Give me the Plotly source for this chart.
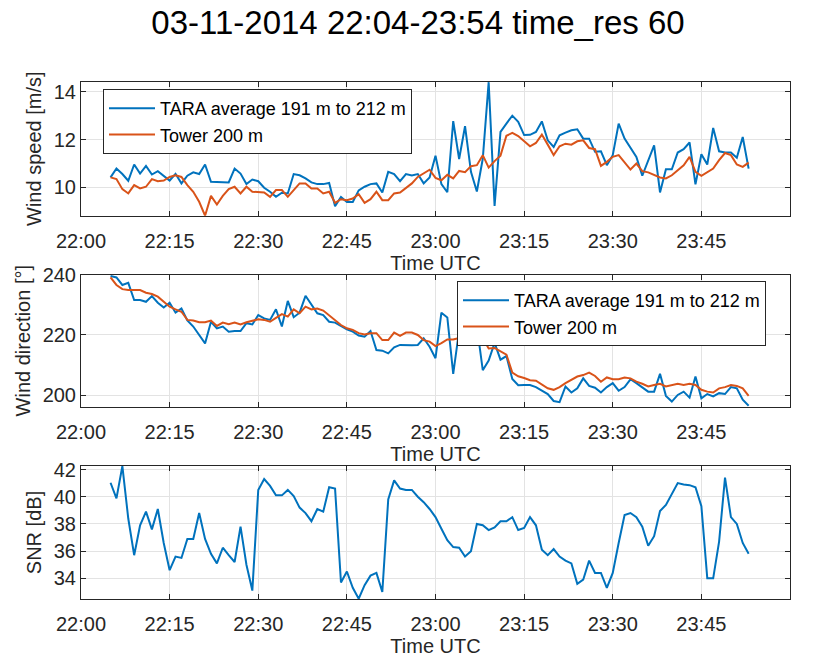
import pandas as pd
import plotly.graph_objects as go

# ---- data (one value per minute, 22:05 ... 23:53) ----
t_start = "2014-11-03 22:05"
n_points = 109
times = pd.date_range(t_start, periods=n_points, freq="1min")

tara_speed = [
    10.42, 10.79, 10.56, 10.28, 10.96, 10.58, 10.90, 10.54, 10.68, 10.47,
    10.29, 10.57, 10.17, 10.49, 10.63, 10.56, 10.96, 10.24, 10.24, 10.24,
    10.21, 10.79, 10.58, 10.14, 10.33, 10.26, 9.99, 9.82, 9.61, 9.78,
    9.75, 10.56, 10.51, 10.38, 10.21, 10.14, 10.14, 10.19, 9.22, 9.60,
    9.39, 9.39, 9.88, 10.03, 10.14, 10.17, 9.79, 10.65, 10.56, 10.26,
    10.56, 10.50, 10.56, 10.17, 10.42, 11.33, 10.14, 9.80, 12.77, 11.19,
    12.56, 10.65, 9.83, 11.20, 14.40, 9.23, 12.32, 12.67, 13.00, 12.74,
    12.19, 12.20, 12.32, 12.76, 11.97, 11.69, 12.18, 12.29, 12.39, 12.43,
    12.04, 12.04, 11.49, 11.51, 10.93, 11.35, 12.67, 12.04, 11.65, 11.28,
    10.49, 11.14, 11.76, 9.79, 10.76, 10.76, 11.46, 11.60, 11.88, 10.13,
    11.39, 10.96, 12.49, 11.51, 11.46, 11.46, 11.24, 12.11, 10.79,
]
tower_speed = [
    10.42, 10.35, 9.93, 9.75, 10.10, 9.96, 10.03, 10.35, 10.26, 10.29,
    10.44, 10.51, 10.44, 10.10, 9.82, 9.40, 8.82, 9.65, 9.29, 9.65,
    9.93, 10.03, 9.75, 10.03, 9.82, 9.79, 9.79, 9.61, 9.89, 9.89,
    9.61, 9.89, 10.17, 10.17, 9.96, 9.96, 9.75, 9.82, 9.36, 9.51,
    9.47, 9.54, 9.72, 9.36, 9.51, 9.82, 9.47, 9.47, 9.75, 9.79,
    9.99, 10.17, 10.44, 10.58, 10.74, 10.40, 10.30, 10.53, 10.38, 10.69,
    10.64, 10.89, 10.93, 11.35, 10.83, 11.10, 11.33, 12.16, 12.28, 12.15,
    11.92, 11.72, 11.86, 12.21, 11.79, 11.35, 11.72, 11.83, 11.79, 11.93,
    11.97, 11.65, 11.60, 10.90, 11.07, 11.28, 11.35, 11.07, 10.75, 11.00,
    10.68, 10.63, 10.51, 10.42, 10.38, 10.51, 10.72, 10.93, 11.28, 10.65,
    10.49, 10.63, 10.79, 11.14, 11.44, 11.35, 10.96, 10.86, 11.04,
]
tara_dir = [
    239.6, 239.1, 236.6, 237.3, 231.6, 231.6, 231.0, 232.9, 230.7, 229.1,
    230.7, 227.4, 228.8, 224.8, 222.8, 220.0, 217.2, 224.4, 222.2, 222.8,
    221.1, 221.3, 221.3, 223.9, 223.5, 226.6, 225.5, 225.0, 228.5, 222.8,
    231.3, 225.9, 227.4, 233.0, 230.2, 227.2, 226.6, 224.4, 224.1, 223.0,
    221.9, 221.1, 219.8, 219.4, 221.3, 215.0, 214.8, 213.9, 215.9, 216.7,
    216.6, 216.6, 216.7, 218.9, 216.1, 212.3, 227.4, 225.8, 207.1, 221.5,
    221.0, 222.5, 223.0, 208.3, 211.5, 217.4, 211.8, 213.0, 205.4, 203.3,
    203.4, 203.4, 202.7, 201.5, 200.4, 198.1, 197.7, 202.9, 200.9, 202.3,
    205.6, 203.1, 202.5, 200.9, 202.7, 204.0, 201.5, 202.7, 205.3, 204.0,
    202.7, 201.2, 201.2, 207.1, 199.8, 197.9, 200.1, 201.2, 199.2, 206.2,
    199.0, 200.4, 199.6, 200.7, 200.4, 202.7, 202.3, 198.5, 196.5,
]
tower_dir = [
    239.1, 236.6, 235.2, 234.9, 234.9, 234.9, 234.0, 233.6, 232.7, 231.0,
    229.4, 228.5, 227.7, 225.0, 224.8, 224.2, 224.2, 224.8, 223.0, 224.1,
    223.6, 224.1, 223.5, 224.2, 224.8, 225.2, 225.0, 224.4, 225.7, 226.9,
    226.1, 228.5, 227.2, 229.4, 228.5, 228.8, 228.1, 226.4, 224.8, 223.3,
    222.2, 221.7, 220.6, 220.2, 220.6, 220.6, 218.3, 218.3, 220.8, 219.7,
    220.8, 220.8, 220.0, 218.3, 217.8, 216.3, 217.3, 218.5, 218.5, 219.0,
    219.0, 220.7, 222.3, 219.0, 215.5, 215.7, 214.6, 213.5, 207.5, 206.3,
    205.7, 205.0, 204.8, 203.4, 202.3, 201.8, 202.7, 204.0, 205.1, 206.2,
    206.7, 207.5, 206.4, 204.5, 205.9, 205.3, 205.3, 205.9, 205.6, 204.5,
    203.8, 202.9, 203.4, 203.8, 202.9, 203.4, 203.8, 203.4, 203.8, 203.4,
    201.8, 201.2, 200.9, 202.3, 202.7, 203.4, 203.1, 202.3, 199.8,
]
snr = [
    41.03, 39.88, 42.25, 38.40, 35.70, 37.90, 38.90, 37.60, 39.10, 36.60,
    34.60, 35.60, 35.50, 36.90, 36.90, 38.80, 36.90, 35.80, 35.10, 36.25,
    35.70, 35.20, 37.80, 35.00, 33.10, 40.50, 41.30, 40.80, 40.10, 40.10,
    40.50, 40.05, 39.20, 38.80, 38.20, 39.10, 38.90, 40.70, 40.60, 33.70,
    34.50, 33.30, 32.50, 33.50, 34.20, 34.40, 33.00, 39.80, 41.20, 40.60,
    40.50, 40.50, 40.00, 39.60, 39.10, 38.50, 37.65, 36.80, 36.30, 36.25,
    35.60, 36.00, 38.00, 37.90, 37.55, 37.75, 38.20, 38.20, 38.50, 37.55,
    37.70, 38.50, 37.90, 36.10, 35.70, 36.15, 35.60, 35.30, 35.10, 33.60,
    33.90, 35.30, 34.40, 34.40, 33.30, 34.40, 36.60, 38.65, 38.80, 38.50,
    37.80, 36.40, 37.10, 38.95, 39.40, 40.20, 41.00, 40.90, 40.85, 40.70,
    39.30, 34.00, 34.00, 36.70, 41.40, 38.50, 38.00, 36.60, 35.80,
]

name_tara = "TARA average 191 m to 212 m"
name_tower = "Tower 200 m"
title_text = "03-11-2014 22:04-23:54 time_res 60"
x_title = "Time UTC"
y_titles = ["Wind speed [m/s]", "Wind direction [°]", "SNR [dB]"]
speed_ticks = [10, 12, 14]
dir_ticks = [200, 220, 240]
snr_ticks = [34, 36, 38, 40, 42]

BLUE = "#0072BD"
ORANGE = "#D95319"
AX = "#262626"
GRID = "#e3e3e3"
FONT = "Liberation Sans, Arial, Helvetica, sans-serif"
W, H = 814, 659

fig = go.Figure()
fig.add_trace(go.Scatter(x=times, y=tara_speed, mode="lines", name=name_tara,
                         line=dict(color=BLUE, width=2), xaxis="x", yaxis="y", legend="legend"))
fig.add_trace(go.Scatter(x=times, y=tower_speed, mode="lines", name=name_tower,
                         line=dict(color=ORANGE, width=2), xaxis="x", yaxis="y", legend="legend"))
fig.add_trace(go.Scatter(x=times, y=tara_dir, mode="lines", name=name_tara,
                         line=dict(color=BLUE, width=2), xaxis="x2", yaxis="y2", legend="legend2"))
fig.add_trace(go.Scatter(x=times, y=tower_dir, mode="lines", name=name_tower,
                         line=dict(color=ORANGE, width=2), xaxis="x2", yaxis="y2", legend="legend2"))
fig.add_trace(go.Scatter(x=times, y=snr, mode="lines", showlegend=False,
                         line=dict(color=BLUE, width=2), xaxis="x3", yaxis="y3"))

x_dom = [81 / W, 790 / W]
y_doms = [
    [1 - 215.7 / H, 1 - 81.7 / H],
    [1 - 406.7 / H, 1 - 274.7 / H],
    [1 - 599 / H, 1 - 466 / H],
]
y_ranges = [[8.82, 14.42], [196.2, 240.0], [32.48, 42.26]]
y_tick_sets = [speed_ticks, dir_ticks, snr_ticks]


def xax(anchor):
    return dict(
        type="date", domain=x_dom, anchor=anchor,
        range=["2014-11-03 22:00", "2014-11-04 00:00"],
        tick0="2014-11-03 22:00", dtick=15 * 60 * 1000, tickformat="%H:%M",
        showgrid=True, gridcolor=GRID, gridwidth=1, zeroline=False,
        ticks="inside", ticklen=5, tickcolor=AX, tickwidth=1,
        showline=True, linecolor=AX, linewidth=1, mirror="ticks",
        tickfont=dict(family=FONT, size=20, color=AX),
        ticklabelstandoff=7,
        title=dict(text=x_title, font=dict(family=FONT, size=20, color=AX), standoff=2),
    )


def yax(i, anchor):
    return dict(
        domain=y_doms[i], anchor=anchor, range=y_ranges[i],
        tickvals=y_tick_sets[i],
        showgrid=True, gridcolor=GRID, gridwidth=1, zeroline=False,
        ticks="inside", ticklen=5, tickcolor=AX, tickwidth=1,
        showline=True, linecolor=AX, linewidth=1, mirror="ticks",
        tickfont=dict(family=FONT, size=20, color=AX),
        title=dict(text=y_titles[i], font=dict(family=FONT, size=20, color=AX), standoff=6),
    )


legend_common = dict(
    xanchor="left", yanchor="top", bgcolor="white",
    bordercolor=AX, borderwidth=1,
    font=dict(family=FONT, size=18, color="black"),
    tracegroupgap=0, itemwidth=46,
)

fig.update_layout(
    width=W, height=H,
    margin=dict(l=0, r=0, t=0, b=0, autoexpand=False),
    paper_bgcolor="white", plot_bgcolor="white",
    font=dict(family=FONT, color=AX),
    title=dict(text=title_text, x=418 / W, xanchor="center", y=1 - 22 / H, yanchor="middle",
               font=dict(family=FONT, size=33, color="black")),
    xaxis=xax("y"), yaxis=yax(0, "x"),
    xaxis2=xax("y2"), yaxis2=yax(1, "x2"),
    xaxis3=xax("y3"), yaxis3=yax(2, "x3"),
    legend=dict(x=103 / W, y=1 - 89 / H, **legend_common),
    legend2=dict(x=457 / W, y=1 - 281 / H, **legend_common),
)

fig.write_html("out.html", config={"displayModeBar": False},
               post_script="document.body.style.margin='0px';")
